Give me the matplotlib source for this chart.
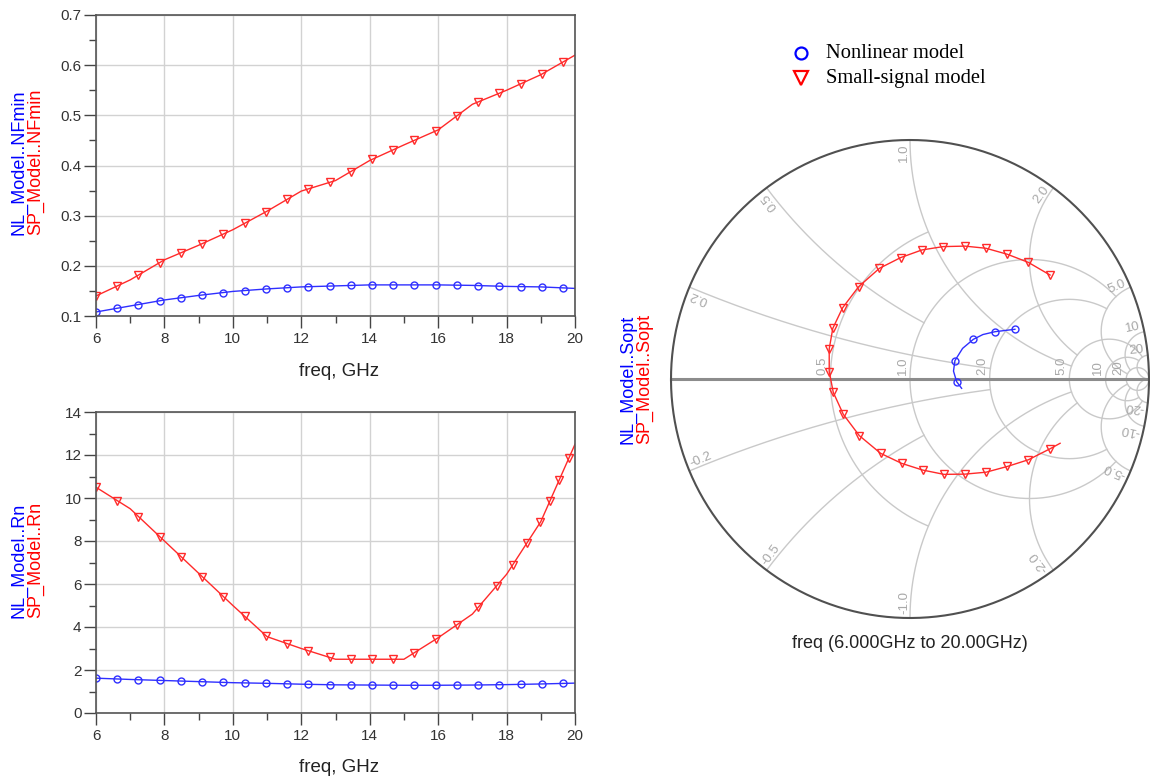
import numpy as np
import matplotlib
matplotlib.use("Agg")
import matplotlib.pyplot as plt
from matplotlib.lines import Line2D

# ---------------- data ----------------
freq_ghz = [6, 7, 8, 9, 10, 11, 12, 13, 14, 15, 16, 17, 18, 19, 20]
nfmin_nl = [0.108, 0.120, 0.132, 0.141, 0.149, 0.154, 0.158, 0.160, 0.162, 0.162, 0.162, 0.161, 0.159, 0.158, 0.155]
nfmin_sp = [0.140, 0.172, 0.212, 0.241, 0.272, 0.309, 0.349, 0.370, 0.410, 0.441, 0.471, 0.522, 0.550, 0.581, 0.620]
rn_nl = [1.62, 1.56, 1.51, 1.46, 1.41, 1.38, 1.34, 1.31, 1.30, 1.29, 1.29, 1.30, 1.32, 1.35, 1.39]
rn_sp = [10.5, 9.5, 8.0, 6.5, 5.0, 3.55, 3.0, 2.5, 2.5, 2.5, 3.5, 4.6, 6.45, 8.9, 12.5]

# Sopt (reflection coefficient) traces, 6 GHz -> 20 GHz
sopt_sp_re = [0.586, 0.495, 0.407, 0.318, 0.230, 0.139, 0.050, -0.039, -0.128, -0.215, -0.282, -0.323, -0.338,
              -0.338, -0.321, -0.279, -0.212, -0.123, -0.035, 0.053, 0.142, 0.230, 0.318, 0.407, 0.495, 0.586, 0.628]
sopt_sp_im = [0.435, 0.488, 0.522, 0.547, 0.556, 0.554, 0.540, 0.508, 0.463, 0.386, 0.298, 0.212, 0.126,
              0.031, -0.056, -0.148, -0.237, -0.311, -0.353, -0.381, -0.399, -0.398, -0.390, -0.366, -0.338, -0.292, -0.269]
sopt_nl_re = [0.439, 0.356, 0.305, 0.265, 0.220, 0.188, 0.182, 0.195, 0.216]
sopt_nl_im = [0.208, 0.198, 0.186, 0.166, 0.128, 0.077, 0.033, -0.011, -0.039]
sopt_nl_marked = [0, 1, 3, 5, 7]

smith_r_values = [0.5, 1, 2, 5, 10, 20]
smith_r_labels = ["0.5", "1.0", "2.0", "5.0", "10", "20"]
smith_r_xlimit = [1, 5, 5, 20, 20, np.inf]
smith_x_values = [0.2, 0.5, 1, 2, 5, 10, 20]
smith_x_labels = ["0.2", "0.5", "1.0", "2.0", "5.0", "10", "20"]
smith_x_rlimit = [2, 1, 5, 5, 20, 20, np.inf]

legend_labels = ["Nonlinear model", "Small-signal model"]

# ---------------- style ----------------
W, H = 1150, 783
BLUE = "#2f2fff"
RED = "#ff2a2a"
SANS = ["Liberation Sans", "DejaVu Sans"]
plt.rcParams["font.family"] = SANS
LABEL_FS = 13
TICK_FS = 11

fig = plt.figure(figsize=(W / 100, H / 100), dpi=100)


def fx(px):
    return px / W


def fy(py):
    return 1 - py / H


def walk_markers(ax, xs, ys, step):
    P = ax.transData.transform(np.column_stack([xs, ys]))
    dense = []
    for a, b in zip(P[:-1], P[1:]):
        n = max(2, int(np.ceil(np.max(np.abs(b - a)) * 4)))
        t = np.linspace(0, 1, n, endpoint=False)
        dense.append(a + np.outer(t, b - a))
    dense.append(P[-1:])
    D = np.vstack(dense)
    out = [D[0]]
    last = D[0]
    for p in D[1:]:
        if np.max(np.abs(p - last)) >= step:
            out.append(p)
            last = p
    return ax.transData.inverted().transform(np.array(out))


def style_rect_axes(ax):
    for s in ax.spines.values():
        s.set_color("#555555")
        s.set_linewidth(1.2)
    ax.set_axisbelow(True)
    ax.grid(True, which="major", color="#d2d2d2", lw=1)
    ax.tick_params(which="major", length=8.5, width=1, color="#454545",
                   labelsize=TICK_FS, labelcolor="#333333")
    ax.tick_params(which="minor", length=5, width=1, color="#454545")
    ax.tick_params(axis="x", which="major", pad=3)
    ax.tick_params(axis="y", which="major", pad=2)
    ax.set_xlim(6, 20)
    ax.set_xticks(range(6, 21, 2))
    ax.set_xticks(range(7, 20, 2), minor=True)


STEP = 21.2

# ---------- top: NFmin ----------
ax1 = fig.add_axes([fx(96), fy(316), fx(479), 301 / H])
style_rect_axes(ax1)
ax1.set_ylim(0.1, 0.7)
ax1.set_yticks(np.arange(0.1, 0.71, 0.1))
ax1.set_yticklabels([f"{v:.1f}" for v in np.arange(0.1, 0.71, 0.1)])
ax1.set_yticks(np.arange(0.15, 0.7, 0.1), minor=True)
for vals, col, mk, ms in [(nfmin_nl, BLUE, "o", 5.0), (nfmin_sp, RED, "v", 5.8)]:
    ax1.plot(freq_ghz, vals, color=col, lw=1)
    m = walk_markers(ax1, freq_ghz, vals, STEP)
    ax1.plot(m[:, 0], m[:, 1], ls="none", marker=mk, ms=ms, mfc="none", mec=col, mew=1)

# ---------- bottom: Rn ----------
ax2 = fig.add_axes([fx(96), fy(713), fx(479), 301 / H])
style_rect_axes(ax2)
ax2.set_ylim(0, 14)
ax2.set_yticks(range(0, 15, 2))
ax2.set_yticks(range(1, 14, 2), minor=True)
for vals, col, mk, ms in [(rn_nl, BLUE, "o", 5.0), (rn_sp, RED, "v", 5.8)]:
    ax2.plot(freq_ghz, vals, color=col, lw=1)
    m = walk_markers(ax2, freq_ghz, vals, STEP)
    ax2.plot(m[:, 0], m[:, 1], ls="none", marker=mk, ms=ms, mfc="none", mec=col, mew=1)

for ycen, name in [(162, "NFmin"), (560, "Rn")]:
    fig.text(fx(19), fy(ycen), f"NL_Model..{name}", rotation=90, color="#0000ff",
             ha="center", va="center", fontsize=LABEL_FS)
    fig.text(fx(36), fy(ycen), f"SP_Model..{name}", rotation=90, color="#ff0000",
             ha="center", va="center", fontsize=LABEL_FS)
fig.text(fx(339), fy(371), "freq, GHz", ha="center", va="center", fontsize=13.5, color="#222222")
fig.text(fx(339), fy(768), "freq, GHz", ha="center", va="center", fontsize=13.5, color="#222222")

# ---------- Smith chart ----------
R_PX = 239
LIM = 1.03
half = R_PX * LIM
ax3 = fig.add_axes([fx(910 - half), fy(379 + half), 2 * half / W, 2 * half / H])
ax3.set_xlim(-LIM, LIM)
ax3.set_ylim(-LIM, LIM)
ax3.set_aspect("equal")
ax3.axis("off")


def z2g(z):
    return (z - 1) / (z + 1)


GRID = "#c9c9c9"
LBL = "#a8a8a8"
SFS = 9.5
for r, xl in zip(smith_r_values, smith_r_xlimit):
    umax = np.arctan(xl) if np.isfinite(xl) else np.pi / 2 - 1e-4
    xx = np.tan(np.linspace(-umax, umax, 600))
    g = z2g(r + 1j * xx)
    ax3.plot(g.real, g.imag, color=GRID, lw=1, zorder=1)
for xv, rl in zip(smith_x_values, smith_x_rlimit):
    vmax = np.arctan(rl) if np.isfinite(rl) else np.pi / 2 - 1e-4
    rr = np.tan(np.linspace(0, vmax, 600))
    for s in (1, -1):
        g = z2g(rr + 1j * s * xv)
        ax3.plot(g.real, g.imag, color=GRID, lw=1, zorder=1)

th = np.linspace(0, 2 * np.pi, 720)
ax3.plot(np.cos(th), np.sin(th), color="#505050", lw=1.5, zorder=3)
ax3.plot([-1, 1], [0, 0], color="#8c8c8c", lw=2.2, zorder=2)

# resistance labels on the real axis
for r, lab in zip(smith_r_values, smith_r_labels):
    gx = (r - 1) / (r + 1)
    ax3.text(gx - 0.006, 0.018, lab, rotation=90, rotation_mode="anchor",
             ha="left", va="bottom", fontsize=SFS, color=LBL, zorder=4)
# reactance labels at the rim
for xv, lab in zip(smith_x_values, smith_x_labels):
    for s in (1, -1):
        g = z2g(1j * s * xv)
        ang = np.degrees(np.arctan2(g.imag, g.real))
        rad = 0.985
        px, py = rad * np.cos(np.radians(ang)), rad * np.sin(np.radians(ang))
        if s > 0:
            ax3.text(px, py, lab, rotation=ang % 180, rotation_mode="anchor",
                     ha="right", va="bottom", fontsize=SFS, color=LBL, zorder=4)
        else:
            ax3.text(px, py, "-" + lab, rotation=ang % 180, rotation_mode="anchor",
                     ha="left", va="bottom", fontsize=SFS, color=LBL, zorder=4)

# traces
ax3.plot(sopt_sp_re, sopt_sp_im, color=RED, lw=1, zorder=5,
         marker="v", ms=5.8, mfc="none", mec=RED, mew=1,
         markevery=list(range(len(sopt_sp_re) - 1)))
ax3.plot(sopt_nl_re, sopt_nl_im, color=BLUE, lw=1, zorder=5,
         marker="o", ms=5.0, mfc="none", mec=BLUE, mew=1,
         markevery=sopt_nl_marked)

fig.text(fx(628), fy(379), "NL_Model..Sopt", rotation=90, color="#0000ff",
         ha="center", va="center", fontsize=LABEL_FS)
fig.text(fx(645), fy(379), "SP_Model..Sopt", rotation=90, color="#ff0000",
         ha="center", va="center", fontsize=LABEL_FS)
fig.text(fx(910), fy(643), "freq (6.000GHz to 20.00GHz)", ha="center", va="center",
         fontsize=LABEL_FS, color="#222222")

# ---------- legend ----------
leg_items = [("o", "#0000ff", 8.6, 53), ("v", "#ff0000", 10, 78)]
for (mk, col, ms, ypx), lab in zip(leg_items, legend_labels):
    fig.add_artist(Line2D([fx(801)], [fy(ypx)], transform=fig.transFigure, ls="none",
                          marker=mk, ms=ms, mfc="none", mec=col, mew=1.6))
    fig.text(fx(826), fy(ypx), lab, ha="left", va="center", fontsize=14.8,
             family=["Liberation Serif", "DejaVu Serif"], color="black")

fig.savefig("out.png", dpi=100)
